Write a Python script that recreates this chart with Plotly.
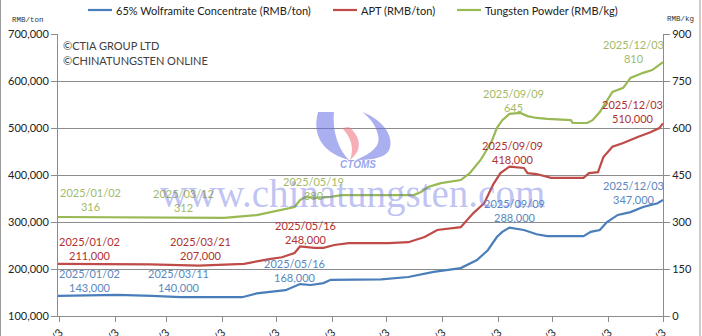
import plotly.graph_objects as go

# ---------------- data ----------------
wolf_dates = ["2025-01-02","2025-01-15","2025-02-04","2025-02-23","2025-03-11","2025-04-14","2025-04-22",
              "2025-05-08","2025-05-16","2025-05-22","2025-05-29","2025-06-02","2025-06-30","2025-07-15",
              "2025-07-29","2025-08-13","2025-08-22","2025-08-28","2025-09-02","2025-09-05","2025-09-09",
              "2025-09-17","2025-09-24","2025-09-30","2025-10-20","2025-10-24","2025-10-29","2025-11-02",
              "2025-11-08","2025-11-15","2025-11-22","2025-11-30","2025-12-03"]
wolf_vals = [143000,144000,145000,143000,140000,140000,148000,155000,168000,166000,170000,177000,178000,
             183000,194000,202000,219000,240000,268000,279000,288000,283000,274000,270000,270000,279000,
             283000,300000,315000,321000,332000,340000,347000]

apt_dates = ["2025-01-02","2025-02-22","2025-03-21","2025-04-15","2025-04-29","2025-05-06","2025-05-13",
             "2025-05-16","2025-05-24","2025-05-29","2025-06-04","2025-06-12","2025-07-04","2025-07-15",
             "2025-07-24","2025-07-31","2025-08-13","2025-08-20","2025-08-26","2025-08-31","2025-09-04",
             "2025-09-09","2025-09-17","2025-09-19","2025-09-24","2025-10-02","2025-10-20","2025-10-23",
             "2025-10-28","2025-10-31","2025-11-05","2025-11-11","2025-11-19","2025-11-26","2025-12-01",
             "2025-12-03"]
apt_vals = [211000,210000,207000,211000,221000,225000,234000,248000,245000,245000,251000,255000,255000,
            257000,268000,283000,289000,319000,340000,380000,404000,418000,415000,404000,402000,394000,
            394000,404000,406000,438000,460000,468000,481000,491000,500000,510000]

pow_dates = ["2025-01-02","2025-03-12","2025-04-04","2025-04-22","2025-05-06","2025-05-13","2025-05-16",
             "2025-05-19","2025-05-24","2025-06-02","2025-06-08","2025-07-18","2025-07-22","2025-07-26",
             "2025-08-02","2025-08-13","2025-08-18","2025-08-24","2025-08-30","2025-09-02","2025-09-05",
             "2025-09-09","2025-09-15","2025-09-19","2025-09-24","2025-09-30","2025-10-13","2025-10-14",
             "2025-10-22","2025-10-25","2025-10-29","2025-11-05","2025-11-11","2025-11-15","2025-11-22",
             "2025-11-27","2025-12-03"]
pow_vals = [316,312,313,322,338,348,370,380,377,380,386,386,396,412,424,434,456,498,555,600,625,645,648,
            638,632,629,625,616,616,625,651,715,728,760,776,785,810]

series_names = ["65% Wolframite Concentrate (RMB/ton)", "APT (RMB/ton)", "Tungsten Powder (RMB/kg)"]

wolf_label_dates = ["2025/01/02","2025/03/11","2025/05/16","2025/09/09","2025/12/03"]
wolf_label_vals = [143000,140000,168000,288000,347000]
apt_label_dates = ["2025/01/02","2025/03/21","2025/05/16","2025/09/09","2025/12/03"]
apt_label_vals = [211000,207000,248000,418000,510000]
pow_label_dates = ["2025/01/02","2025/03/12","2025/05/19","2025/09/09","2025/12/03"]
pow_label_vals = [316,312,380,645,810]

month_ticks = ["2025-%02d-03" % m for m in range(1, 13)]

# ---------------- styling ----------------
W, H = 702, 336
L, R, T, B = 58, 663, 34, 316
FONT = "Lato"
C_BLUE, C_RED, C_GREEN = "#4A7EBB", "#BE4B48", "#98B954"
T_BLUE, T_RED, T_GREEN = "#5A87BE", "#B0302E", "#A2BA68"
GRID = "#8C8C8C"

def px(x):
    return (x - L) / (R - L)

def py(y):
    return (B - y) / (B - T)

fig = go.Figure()
fig.add_trace(go.Scatter(x=wolf_dates, y=wolf_vals, mode="lines", name=series_names[0],
                         line=dict(color=C_BLUE, width=2.2), yaxis="y"))
fig.add_trace(go.Scatter(x=apt_dates, y=apt_vals, mode="lines", name=series_names[1],
                         line=dict(color=C_RED, width=2.2), yaxis="y"))
fig.add_trace(go.Scatter(x=pow_dates, y=pow_vals, mode="lines", name=series_names[2],
                         line=dict(color=C_GREEN, width=2.2), yaxis="y2"))

ann = []
# data labels
def add_labels(dates, vals, fmt, color, pos):
    for d, v, (x, y) in zip(dates, vals, pos):
        ann.append(dict(xref="paper", yref="paper", x=px(x), y=py(y + 7), showarrow=False,
                        xanchor="center", yanchor="middle",
                        text=f"{d}<br>{fmt(v)}", font=dict(family=FONT, size=11, color=color)))

add_labels(wolf_label_dates, wolf_label_vals, lambda v: f"{v:,}", T_BLUE,
           [(89, 273), (178, 273), (294, 263), (514, 203), (633, 185)])
add_labels(apt_label_dates, apt_label_vals, lambda v: f"{v:,}", T_RED,
           [(89, 241), (200, 241), (305, 225), (512, 145), (632, 105)])
add_labels(pow_label_dates, pow_label_vals, lambda v: f"{v}", T_GREEN,
           [(90, 192), (183, 193), (313, 181), (513, 93), (633, 44)])

# copyright
ann.append(dict(xref="paper", yref="paper", x=px(61), y=py(45), showarrow=False, xanchor="left",
                yanchor="middle", text="©CTIA GROUP LTD", font=dict(family=FONT, size=11, color="#404040")))
ann.append(dict(xref="paper", yref="paper", x=px(61), y=py(60), showarrow=False, xanchor="left",
                yanchor="middle", text="©CHINATUNGSTEN ONLINE", font=dict(family=FONT, size=11, color="#404040")))
# unit labels
ann.append(dict(xref="paper", yref="paper", x=px(28), y=py(20), showarrow=False, xanchor="center",
                yanchor="middle", text="RMB/ton", font=dict(family="Liberation Mono", size=7.5, color="#333333")))
ann.append(dict(xref="paper", yref="paper", x=px(680), y=py(19), showarrow=False, xanchor="center",
                yanchor="middle", text="RMB/kg", font=dict(family="Liberation Mono", size=7.5, color="#333333")))

# manual legend
shapes = []
leg = [(88, C_BLUE, series_names[0]), (333, C_RED, series_names[1]), (457, C_GREEN, series_names[2])]
for x0, c, name in leg:
    shapes.append(dict(type="line", xref="paper", yref="paper", x0=px(x0), x1=px(x0 + 24),
                       y0=py(10), y1=py(10), line=dict(color=c, width=2.2)))
    ann.append(dict(xref="paper", yref="paper", x=px(x0 + 26), y=py(10), showarrow=False, xanchor="left",
                    yanchor="middle", text=name, font=dict(family=FONT, size=11, color="#222222")))

# watermark text
ann.append(dict(xref="paper", yref="paper", x=px(352), y=py(194), showarrow=False, xanchor="center",
                yanchor="middle", text="www.chinatungsten.com",
                font=dict(family="Liberation Serif", size=39, color="rgba(100,110,225,0.42)")))
ann.append(dict(xref="paper", yref="paper", x=px(358), y=py(165), showarrow=False, xanchor="center",
                yanchor="middle", text="<b><i>CTOMS</i></b>",
                font=dict(family="Liberation Sans", size=10, color="rgba(95,115,225,0.65)")))

def path(pts):
    s = ""
    for cmd, coords in pts:
        s += cmd + " " + " ".join(f"{px(coords[i]):.4f},{py(coords[i+1]):.4f}" for i in range(0, len(coords), 2)) + " "
    return s + "Z"

logo_blue = "rgba(100,110,225,0.55)"
logo_pink = "rgba(240,120,130,0.6)"
shapes.append(dict(type="path", xref="paper", yref="paper", line=dict(width=0), fillcolor=logo_blue,
                   path=path([("M", [318, 112]), ("C", [311, 138, 326, 154, 349, 160]),
                              ("C", [339, 150, 332, 132, 334, 112])])))
shapes.append(dict(type="path", xref="paper", yref="paper", line=dict(width=0), fillcolor=logo_pink,
                   path=path([("M", [342, 128]), ("C", [352, 138, 354, 149, 350, 160]),
                              ("C", [363, 150, 361, 137, 349, 127])])))
shapes.append(dict(type="path", xref="paper", yref="paper", line=dict(width=0), fillcolor=logo_blue,
                   path=path([("M", [362, 112]), ("C", [385, 120, 396, 140, 388, 152]),
                              ("C", [382, 159, 368, 160, 356, 160]),
                              ("C", [372, 153, 381, 146, 378, 135]),
                              ("C", [376, 125, 370, 118, 362, 112])])))

# chart-area border (left / right edges)
shapes.append(dict(type="line", xref="paper", yref="paper", x0=px(0.5), x1=px(0.5), y0=py(-5), y1=py(340),
                   line=dict(color="#9A9A9A", width=1)))
shapes.append(dict(type="line", xref="paper", yref="paper", x0=px(700), x1=px(700), y0=py(-5), y1=py(340),
                   line=dict(color="#9A9A9A", width=1)))

fig.update_layout(
    width=W, height=H,
    margin=dict(l=L, r=W - R, t=T, b=H - B, autoexpand=False),
    paper_bgcolor="white", plot_bgcolor="white",
    showlegend=False,
    font=dict(family=FONT, size=11, color="#222222"),
    xaxis=dict(type="date", range=["2025-01-02", "2025-12-03"], tickvals=month_ticks,
               tickformat="%Y/%-m/%-d", tickangle=-45, ticks="outside", ticklen=5, tickcolor=GRID,
               showline=True, linecolor=GRID, linewidth=1, showgrid=False, zeroline=False,
               automargin=False, tickfont=dict(family=FONT, size=11, color="#222222")),
    yaxis=dict(range=[100000, 700000], dtick=100000, tickformat=",", showgrid=True, gridcolor=GRID,
               gridwidth=1, showline=True, linecolor=GRID, ticks="outside", ticklen=6, tickcolor=GRID,
               zeroline=False, automargin=False, tickfont=dict(family=FONT, size=11, color="#222222")),
    yaxis2=dict(range=[0, 900], dtick=150, overlaying="y", side="right", showgrid=False,
                showline=True, linecolor=GRID, ticks="outside", ticklen=6, tickcolor=GRID,
                zeroline=False, automargin=False, tickfont=dict(family=FONT, size=11, color="#222222")),
    annotations=ann, shapes=shapes,
)

fig.write_html("out.html")
